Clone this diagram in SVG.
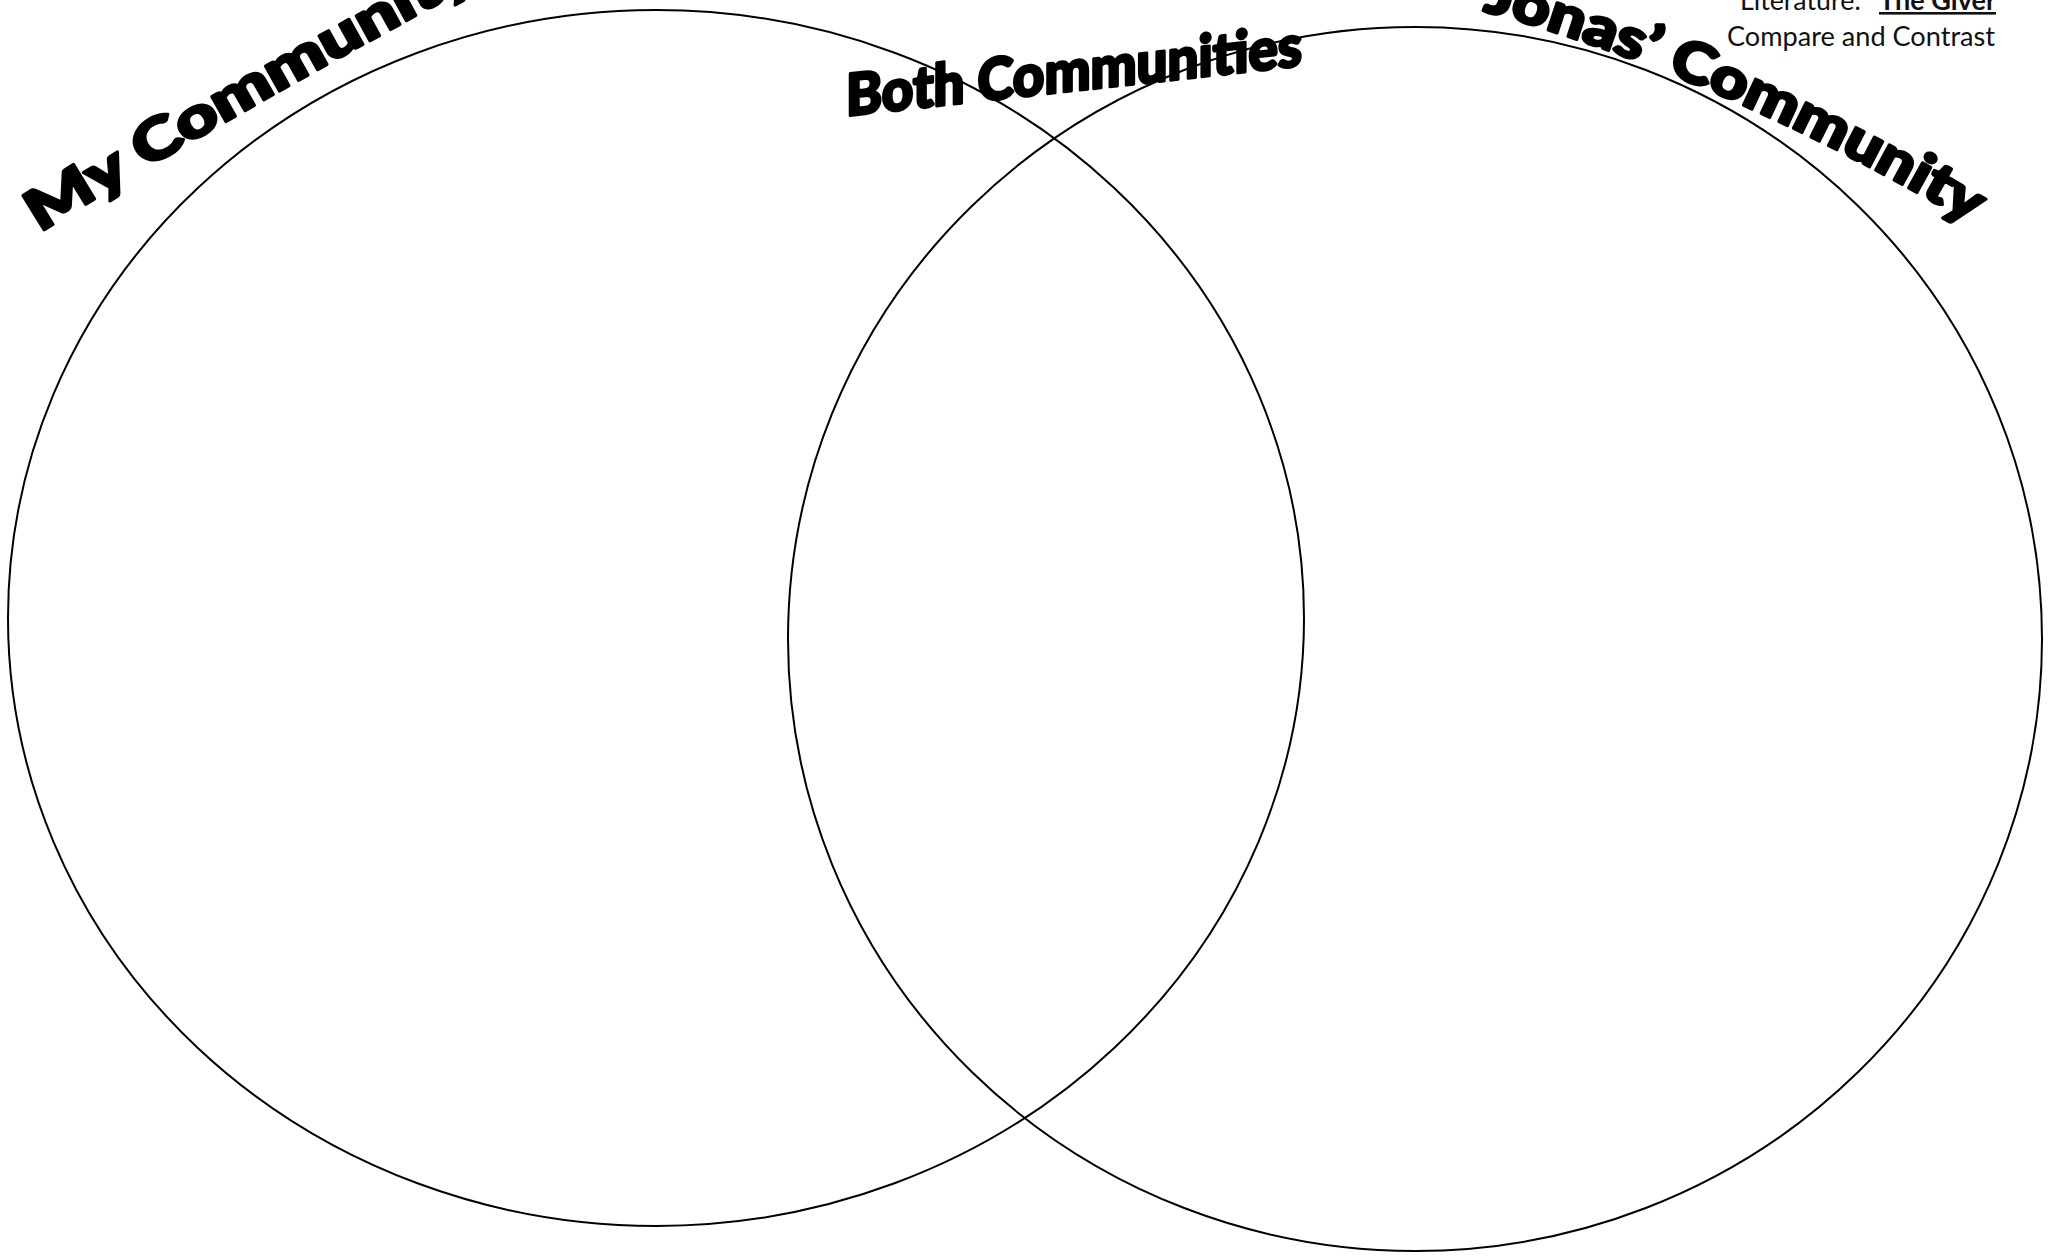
<svg xmlns="http://www.w3.org/2000/svg" xmlns:xlink="http://www.w3.org/1999/xlink" width="2049" height="1258" viewBox="0 0 2049 1258">
  <style>
    .ring { fill: none; stroke: #000; stroke-width: 2; }
    .art { font-family: "Lato", "Inter", "Roboto", "DejaVu Sans", sans-serif; font-weight: 900; fill: #000; stroke: #000; stroke-width: 3; stroke-linejoin: round; }
    .hdr { font-family: "Lato", "Open Sans", "Liberation Sans", sans-serif; font-size: 26px; fill: #111; }
  </style>
  <defs>
    <path id="arcMy" d="M 35,236 Q 240,108 520,-40"/>
    <path id="arcJonas" d="M 1440,0 Q 1700,62 1985,232"/>
  </defs>
  <rect width="2049" height="1258" fill="#fff"/>

  <g id="my-community">
    <ellipse class="ring" cx="656" cy="618" rx="648" ry="608"/>
    <text class="art" font-size="56"><textPath xlink:href="#arcMy" href="#arcMy" startOffset="6" textLength="505" lengthAdjust="spacingAndGlyphs">My Community</textPath></text>
  </g>

  <g id="jonas-community">
    <ellipse class="ring" cx="1415" cy="639" rx="627" ry="612"/>
    <text class="art" font-size="56"><textPath xlink:href="#arcJonas" href="#arcJonas" startOffset="44" textLength="535" lengthAdjust="spacingAndGlyphs">Jonas’ Community</textPath></text>
  </g>

  <g id="both-communities">
    <text class="art" font-size="58" transform="translate(846,116) skewY(-6.3)" textLength="456" lengthAdjust="spacingAndGlyphs">Both Communities</text>
  </g>

  <g id="header">
    <text class="hdr" x="1740" y="10" textLength="121" lengthAdjust="spacingAndGlyphs">Literature:</text>
    <text class="hdr" x="1879" y="10" font-weight="bold" text-decoration="underline" textLength="117" lengthAdjust="spacingAndGlyphs">The Giver</text>
    <text class="hdr" x="1727" y="46" textLength="268" lengthAdjust="spacingAndGlyphs">Compare and Contrast</text>
  </g>

  <g id="connectors"></g>
</svg>
